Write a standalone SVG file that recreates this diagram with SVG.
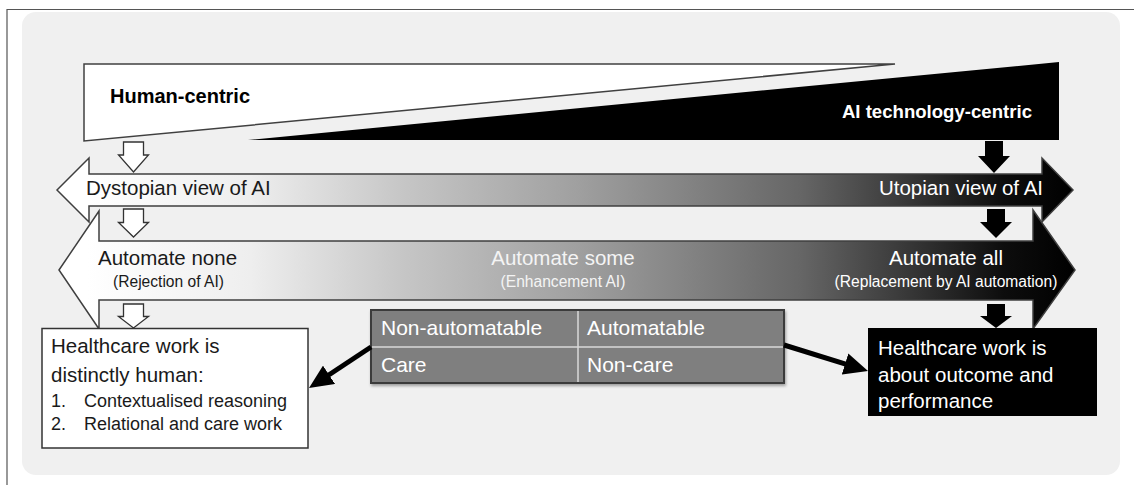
<svg xmlns="http://www.w3.org/2000/svg" width="1134" height="485" viewBox="0 0 1134 485">
  <defs>
    <linearGradient id="gr" gradientUnits="userSpaceOnUse" x1="57" y1="0" x2="1075" y2="0">
      <stop offset="0.03" stop-color="#ffffff"/>
      <stop offset="0.19" stop-color="#eeeeee"/>
      <stop offset="0.34" stop-color="#c6c6c6"/>
      <stop offset="0.51" stop-color="#a0a0a0"/>
      <stop offset="0.73" stop-color="#666666"/>
      <stop offset="0.83" stop-color="#3a3a3a"/>
      <stop offset="0.93" stop-color="#0d0d0d"/>
      <stop offset="1" stop-color="#000000"/>
    </linearGradient>
    <filter id="sh" x="-5%" y="-10%" width="110%" height="130%">
      <feDropShadow dx="1" dy="2" stdDeviation="1.5" flood-color="#000" flood-opacity="0.35"/>
    </filter>
    <marker id="ah" markerUnits="userSpaceOnUse" markerWidth="24" markerHeight="22" viewBox="0 0 24 22" refX="4" refY="11" orient="auto">
      <path d="M0,0 L24,11 L0,22 z" fill="#000"/>
    </marker>
  </defs>
  <style>
    text { font-family: "Liberation Sans", Arial, sans-serif; }
    .bigarrow { fill: url(#gr); stroke: #3f3f3f; stroke-width: 1.5; }
    .wdown { fill: #ffffff; stroke: #333333; stroke-width: 1.3; }
    .bdown { fill: #000000; }
    .dk { fill: #1a1a1a; }
    .wt { fill: #ffffff; }
    .t20 { font-size: 20.5px; }
    .t16 { font-size: 15.6px; }
    .conn { stroke: #000; stroke-width: 5; fill: none; }
  </style>

  <!-- frame and background -->
  <path d="M7,485 V9.5 H1134" fill="none" stroke="#555555" stroke-width="1.2"/>
  <rect x="22" y="12" width="1098" height="463" rx="14" fill="#f0f0f0"/>

  <g id="human-centric">
    <polygon points="84,64 895,64 84,141" fill="#ffffff" stroke="#404040" stroke-width="1.5"/>
    <text x="110" y="103" font-size="20" font-weight="bold" fill="#000">Human-centric</text>
  </g>

  <g id="ai-centric">
    <polygon points="248,140 1059,62 1059,140" fill="#000000"/>
    <text x="1032" y="118" font-size="18.6" font-weight="bold" fill="#ffffff" text-anchor="end">AI technology-centric</text>
  </g>

  <g id="view-arrow">
    <polygon class="bigarrow" points="57,190 89,158 89,174 1042,174 1042,158 1073,190 1042,222 1042,206 89,206 89,222"/>
    <text class="dk t20" x="86" y="195">Dystopian view of AI</text>
    <text class="wt t20" x="1043" y="195" text-anchor="end">Utopian view of AI</text>
  </g>

  <g id="automate-arrow">
    <polygon class="bigarrow" points="59,270 99,211 99,241 1033,241 1033,210 1075,270 1033,329 1033,300 99,300 99,329"/>
    <text class="dk t20" x="98" y="265">Automate none</text>
    <text class="dk t16" x="113" y="287">(Rejection of AI)</text>
    <text class="t20" x="563" y="265" text-anchor="middle" fill="#f4f4f4">Automate some</text>
    <text class="t16" x="563" y="287" text-anchor="middle" fill="#f4f4f4">(Enhancement AI)</text>
    <text class="wt t20" x="946" y="265" text-anchor="middle">Automate all</text>
    <text class="wt t16" x="946" y="287" text-anchor="middle">(Replacement by AI automation)</text>
  </g>

  <g id="down-arrows-left">
    <polygon class="wdown" points="123.5,142 143.5,142 143.5,155 148.5,155 133.5,172 118.5,155 123.5,155"/>
    <polygon class="wdown" points="123.5,209 143.5,209 143.5,222.5 148.5,222.5 133.5,237 118.5,222.5 123.5,222.5"/>
    <polygon class="wdown" points="123.5,304 143.5,304 143.5,316.5 148.5,316.5 133.5,328 118.5,316.5 123.5,316.5"/>
  </g>

  <g id="down-arrows-right">
    <polygon class="bdown" points="985,141 1003,141 1003,156 1010,156 994,173 978,156 985,156"/>
    <polygon class="bdown" points="987,209 1005,209 1005,222 1012,222 996,238 980,222 987,222"/>
    <polygon class="bdown" points="987,304 1005,304 1005,316 1012,316 996,328 980,316 987,316"/>
  </g>

  <g id="human-box">
    <rect x="42" y="328.5" width="266" height="119.5" fill="#ffffff" stroke="#333333" stroke-width="1.5"/>
    <text class="dk t20" x="51" y="353">Healthcare work is</text>
    <text class="dk t20" x="51" y="382">distinctly human:</text>
    <text class="dk" x="51" y="407" font-size="18">1.</text>
    <text class="dk" x="84" y="407" font-size="18">Contextualised reasoning</text>
    <text class="dk" x="51" y="430" font-size="18">2.</text>
    <text class="dk" x="84" y="430" font-size="18">Relational and care work</text>
  </g>

  <g id="table">
    <rect x="371" y="310" width="413" height="73" fill="#7f7f7f" stroke="#3a3a3a" stroke-width="2" filter="url(#sh)"/>
    <line x1="372" y1="347" x2="783" y2="347" stroke="#d9d9d9" stroke-width="1.5"/>
    <line x1="578" y1="311" x2="578" y2="382" stroke="#d9d9d9" stroke-width="1.5"/>
    <text class="wt" x="381" y="335" font-size="21">Non-automatable</text>
    <text class="wt" x="587" y="335" font-size="21">Automatable</text>
    <text class="wt" x="381" y="372" font-size="21">Care</text>
    <text class="wt" x="587" y="372" font-size="21">Non-care</text>
  </g>

  <g id="outcome-box">
    <rect x="868" y="328" width="229" height="88" fill="#000000"/>
    <text class="wt t20" x="878" y="355">Healthcare work is</text>
    <text class="wt t20" x="878" y="382">about outcome and</text>
    <text class="wt t20" x="878" y="408">performance</text>
  </g>

  <g id="connectors">
    <line class="conn" x1="371" y1="347" x2="325.7" y2="377" marker-end="url(#ah)"/>
    <line class="conn" x1="784" y1="345" x2="848.9" y2="365.1" marker-end="url(#ah)"/>
  </g>
</svg>
